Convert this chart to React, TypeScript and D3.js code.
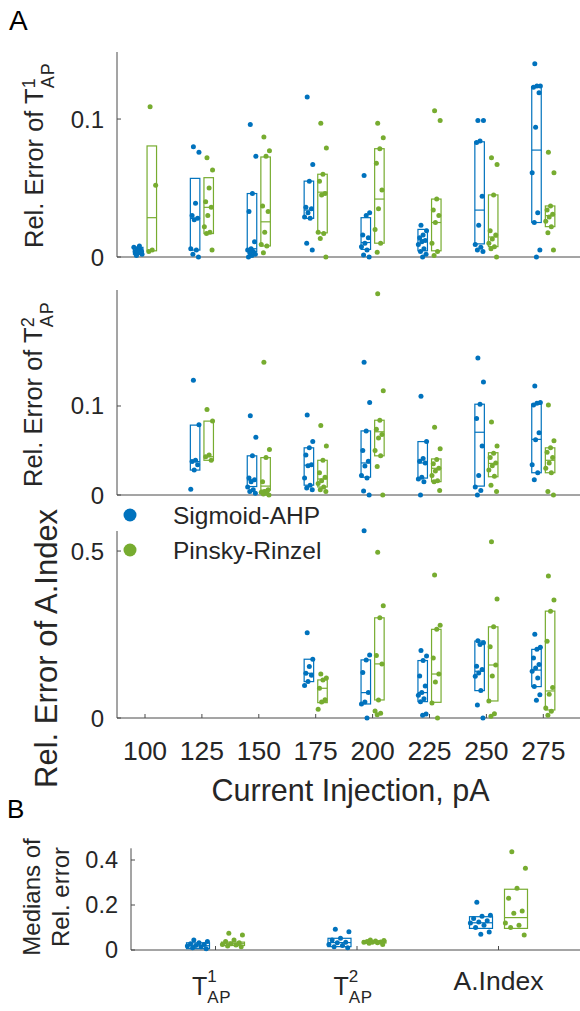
import React from 'react';
import * as d3 from 'd3';

// ---------------- DATA ----------------
const categories = ["100", "125", "150", "175", "200", "225", "250", "275"];
const seriesNames = ["Sigmoid-AHP", "Pinsky-Rinzel"];
const seriesColors = ["#0072BD", "#77AC30"];

// Panel A, row 1: Rel. Error of T1_AP (points per category)
const t1Sigmoid: number[][] = [
  [0.001, 0.002, 0.003, 0.004, 0.005, 0.006, 0.007, 0.008, 0.002, 0.004],
  [0.080, 0.076, 0.039, 0.030, 0.028, 0.027, 0.006, 0.005, 0.002, 0.000],
  [0.096, 0.073, 0.046, 0.033, 0.011, 0.006, 0.005, 0.004, 0.003, 0.002, 0.001, 0.000],
  [0.116, 0.067, 0.055, 0.036, 0.035, 0.032, 0.029, 0.028, 0.010, 0.005],
  [0.059, 0.032, 0.030, 0.016, 0.014, 0.010, 0.0075, 0.005, 0.0015, 0.000],
  [0.023, 0.019, 0.016, 0.014, 0.012, 0.011, 0.009, 0.006, 0.004, 0.002, 0.000],
  [0.099, 0.099, 0.084, 0.083, 0.044, 0.023, 0.009, 0.007, 0.005, 0.004],
  [0.140, 0.124, 0.124, 0.123, 0.119, 0.094, 0.061, 0.032, 0.025, 0.005, 0.000],
];
const t1Pinsky: number[][] = [
  [0.109, 0.052, 0.005, 0.004],
  [0.072, 0.063, 0.050, 0.040, 0.036, 0.030, 0.022, 0.018, 0.017, 0.005],
  [0.087, 0.077, 0.073, 0.037, 0.033, 0.018, 0.009, 0.008, 0.003],
  [0.097, 0.079, 0.060, 0.055, 0.046, 0.045, 0.018, 0.017, 0.0135, 0.000],
  [0.097, 0.0865, 0.0785, 0.068, 0.0485, 0.035, 0.020, 0.010, 0.0035],
  [0.106, 0.099, 0.042, 0.034, 0.030, 0.025, 0.010, 0.004, 0.001],
  [0.072, 0.067, 0.045, 0.019, 0.016, 0.013, 0.010, 0.0075, 0.006, 0.000],
  [0.076, 0.061, 0.037, 0.034, 0.031, 0.029, 0.026, 0.022, 0.0175, 0.005],
];
// boxes: [q1, median, q3]
const t1SigmoidBox: (number[] | null)[] = [
  [0.002, 0.004, 0.007], [0.005, 0.028, 0.057], [0.004, 0.006, 0.046], [0.028, 0.034, 0.055],
  [0.0055, 0.0105, 0.0285], [0.0045, 0.0125, 0.020], [0.0095, 0.034, 0.0835], [0.025, 0.0775, 0.1235],
];
const t1PinskyBox: (number[] | null)[] = [
  [0.0045, 0.0285, 0.0805], [0.017, 0.036, 0.0575], [0.008, 0.0255, 0.0725], [0.0175, 0.047, 0.060],
  [0.010, 0.042, 0.0785], [0.0045, 0.025, 0.042], [0.0075, 0.0145, 0.045], [0.022, 0.030, 0.037],
];

// Panel A, row 2: Rel. Error of T2_AP
const t2Sigmoid: number[][] = [
  [],
  [0.129, 0.079, 0.039, 0.0375, 0.034, 0.028, 0.0065],
  [0.089, 0.065, 0.044, 0.019, 0.017, 0.015, 0.009, 0.006, 0.004, 0.002],
  [0.090, 0.060, 0.053, 0.045, 0.034, 0.033, 0.019, 0.011, 0.008, 0.006],
  [0.149, 0.104, 0.072, 0.050, 0.038, 0.0325, 0.022, 0.019, 0.0045, 0.000],
  [0.111, 0.060, 0.041, 0.038, 0.036, 0.020, 0.018, 0.015, 0.000],
  [0.154, 0.127, 0.102, 0.086, 0.055, 0.022, 0.009, 0.005, 0.000],
  [0.1225, 0.104, 0.103, 0.101, 0.070, 0.062, 0.034, 0.025, 0.017],
];
const t2Pinsky: number[][] = [
  [],
  [0.096, 0.083, 0.045, 0.043, 0.039],
  [0.149, 0.051, 0.042, 0.015, 0.006, 0.004, 0.003, 0.002, 0.001, 0.000],
  [0.078, 0.055, 0.039, 0.025, 0.020, 0.016, 0.013, 0.009, 0.006, 0.004],
  [0.226, 0.117, 0.084, 0.074, 0.068, 0.064, 0.050, 0.044, 0.032, 0.000],
  [0.076, 0.052, 0.040, 0.035, 0.030, 0.027, 0.022, 0.016, 0.015, 0.005],
  [0.082, 0.055, 0.047, 0.042, 0.036, 0.033, 0.028, 0.021, 0.011, 0.004],
  [0.101, 0.061, 0.053, 0.048, 0.042, 0.036, 0.030, 0.025, 0.004, 0.000],
];
const t2SigmoidBox: (number[] | null)[] = [
  null, [0.028, 0.0375, 0.0785], [0.0095, 0.017, 0.044], [0.011, 0.0335, 0.053],
  [0.020, 0.036, 0.072], [0.019, 0.036, 0.060], [0.010, 0.0705, 0.102], [0.025, 0.0625, 0.102],
];
const t2PinskyBox: (number[] | null)[] = [
  null, [0.039, 0.043, 0.083], [0.0055, 0.010, 0.042], [0.009, 0.018, 0.039],
  [0.044, 0.071, 0.084], [0.015, 0.030, 0.0405], [0.0205, 0.0355, 0.0475], [0.025, 0.039, 0.053],
];

// Panel A, row 3: Rel. Error of A.Index
const aiSigmoid: number[][] = [
  [], [], [],
  [0.255, 0.176, 0.154, 0.134, 0.128, 0.109, 0.097],
  [0.561, 0.189, 0.174, 0.136, 0.076, 0.048, 0.042, 0.000],
  [0.202, 0.186, 0.172, 0.126, 0.096, 0.076, 0.068, 0.058, 0.049, 0.012, 0.008],
  [0.231, 0.225, 0.220, 0.155, 0.145, 0.135, 0.125, 0.082, 0.039, 0.000],
  [0.2505, 0.212, 0.206, 0.180, 0.160, 0.150, 0.140, 0.120, 0.094, 0.070, 0.053],
];
const aiPinsky: number[][] = [
  [], [], [],
  [0.132, 0.120, 0.114, 0.089, 0.055, 0.048, 0.026],
  [0.496, 0.336, 0.300, 0.187, 0.162, 0.054, 0.021, 0.014, 0.010],
  [0.428, 0.278, 0.2655, 0.180, 0.132, 0.108, 0.045, 0.000],
  [0.528, 0.356, 0.273, 0.2136, 0.159, 0.126, 0.051, 0.013, 0.005],
  [0.425, 0.353, 0.320, 0.230, 0.091, 0.071, 0.030, 0.020, 0.008],
];
const aiSigmoidBox: (number[] | null)[] = [
  null, null, null, [0.109, 0.134, 0.176], [0.042, 0.076, 0.174],
  [0.049, 0.076, 0.172], [0.082, 0.140, 0.2305], [0.094, 0.1435, 0.2055],
];
const aiPinskyBox: (number[] | null)[] = [
  null, null, null, [0.046, 0.089, 0.114], [0.054, 0.162, 0.300],
  [0.047, 0.1317, 0.2655], [0.051, 0.1587, 0.273], [0.024, 0.081, 0.320],
];

// Panel B: medians of relative error
const bCategories = ["T1", "T2", "A.Index"];
const bSigmoid: number[][] = [
  [0.045, 0.038, 0.032, 0.028, 0.024, 0.020, 0.018, 0.015, 0.010, 0.006],
  [0.092, 0.081, 0.052, 0.045, 0.035, 0.032, 0.025, 0.020, 0.015, 0.010],
  [0.212, 0.155, 0.150, 0.140, 0.130, 0.125, 0.120, 0.110, 0.100, 0.080, 0.070],
];
const bPinsky: number[][] = [
  [0.074, 0.067, 0.045, 0.038, 0.032, 0.028, 0.025, 0.022, 0.018, 0.015],
  [0.045, 0.042, 0.040, 0.038, 0.036, 0.035, 0.034, 0.032, 0.030, 0.025],
  [0.437, 0.363, 0.274, 0.230, 0.173, 0.163, 0.120, 0.110, 0.100, 0.067],
];
const bSigmoidBox = [[0.006, 0.019, 0.032], [0.015, 0.033, 0.052], [0.096, 0.121, 0.148]];
const bPinskyBox = [[0.020, 0.028, 0.035], [0.031, 0.035, 0.041], [0.096, 0.144, 0.270]];

const t1Ticks = [0, 0.1];
const t2Ticks = [0, 0.1];
const aiTicks = [0, 0.5];
const bTicks = [0, 0.2, 0.4];

// ---------------- DRAWING ----------------
const FONT = "'Liberation Sans', Arial, Helvetica, sans-serif";
const AXIS = "#4a4a4a";
const TEXT = "#262626";

function jitter(i: number, w: number) {
  const f = ((i * 0.618034 + 0.31) % 1) - 0.5;
  return f * w;
}

type GroupProps = {
  values: number[];
  box: number[] | null;
  cx: number;
  y: d3.ScaleLinear<number, number>;
  color: string;
  boxW: number;
  jitW: number;
  r: number;
};

function Group({ values, box, cx, y, color, boxW, jitW, r }: GroupProps) {
  return (
    <g>
      {values.map((v, i) => (
        <circle key={i} cx={cx + jitter(i, jitW)} cy={y(v)} r={r} fill={color} />
      ))}
      {box && (
        <g fill="none" stroke={color} strokeWidth={1.2}>
          <rect x={cx - boxW / 2} y={y(box[2])} width={boxW} height={y(box[0]) - y(box[2])} />
          <line x1={cx - boxW / 2} x2={cx + boxW / 2} y1={y(box[1])} y2={y(box[1])} />
        </g>
      )}
    </g>
  );
}

type PanelProps = {
  y: d3.ScaleLinear<number, number>;
  ticks: number[];
  blue: number[][];
  green: number[][];
  blueBox: (number[] | null)[];
  greenBox: (number[] | null)[];
  xTicks: boolean;
};

const xA = d3.scalePoint<string>().domain(categories).range([145, 543.3]);
const AXIS_X = 117;
const RIGHT = 580;
const OFF_A = 6.8;
const BOXW_A = 9.5;

function PanelA({ y, ticks, blue, green, blueBox, greenBox, xTicks }: PanelProps) {
  const [y0, y1] = y.range();
  return (
    <g>
      <line x1={AXIS_X} x2={AXIS_X} y1={y0} y2={y1} stroke={AXIS} strokeWidth={1} />
      <line x1={AXIS_X} x2={RIGHT} y1={y0} y2={y0} stroke={AXIS} strokeWidth={1} />
      {ticks.map((t) => (
        <g key={t}>
          <line x1={AXIS_X} x2={AXIS_X + 4} y1={y(t)} y2={y(t)} stroke={AXIS} />
          <text x={AXIS_X - 13} y={y(t) + 8.5} textAnchor="end" fontSize={24} fill={TEXT} fontFamily={FONT}>
            {String(t)}
          </text>
        </g>
      ))}
      {xTicks &&
        categories.map((c) => (
          <line key={c} x1={xA(c)} x2={xA(c)} y1={y0} y2={y0 - 4} stroke={AXIS} />
        ))}
      {categories.map((c, i) => (
        <g key={c}>
          <Group values={blue[i]} box={blueBox[i]} cx={(xA(c) as number) - OFF_A} y={y} color={seriesColors[0]} boxW={BOXW_A} jitW={9} r={2.5} />
          <Group values={green[i]} box={greenBox[i]} cx={(xA(c) as number) + OFF_A} y={y} color={seriesColors[1]} boxW={BOXW_A} jitW={9} r={2.5} />
        </g>
      ))}
    </g>
  );
}

// base text followed by stacked superscript and subscript
function SubSup({ base, sup, sub, size, subSize, supDy, subDy, subSpacing }: {
  base: string; sup: string; sub: string; size: number; subSize: number; supDy: number; subDy: number; subSpacing: number;
}) {
  const supW = sup.length * 0.556 * subSize;
  return (
    <>
      <tspan fontSize={size}>{base}</tspan>
      <tspan fontSize={subSize} dy={supDy}>{sup}</tspan>
      <tspan fontSize={subSize} dx={-supW} dy={subDy - supDy} letterSpacing={subSpacing}>{sub}</tspan>
    </>
  );
}

export default function App() {
  const yT1 = d3.scaleLinear().domain([0, 0.1486]).range([257, 52]);
  const yT2 = d3.scaleLinear().domain([0, 0.2303]).range([495, 290]);
  const yAI = d3.scaleLinear().domain([0, 0.56]).range([718, 531]);
  const yB = d3.scaleLinear().domain([0, 0.452]).range([950, 848.3]);
  const xB = d3.scalePoint<string>().domain(bCategories).range([215.5, 498.5]);
  const BX = 131;
  const OFF_B = 17.5;
  const BOXW_B = 23;

  return (
    <svg width={580} height={1011} style={{ position: 'absolute', left: 0, top: 0, background: '#fff' }} fontFamily={FONT}>
      <rect x={0} y={0} width={580} height={1011} fill="#fff" />
      {/* Panel letters */}
      <text x={9} y={30} fontSize={28} fill="#000">A</text>
      <text x={7} y={818} fontSize={26} fill="#000">B</text>

      {/* Row 1 */}
      <PanelA y={yT1} ticks={t1Ticks} blue={t1Sigmoid} green={t1Pinsky} blueBox={t1SigmoidBox} greenBox={t1PinskyBox} xTicks={false} />
      <text transform="translate(43,248) rotate(-90)" fill={TEXT}>
        <tspan fontSize={25.5}>Rel. Error of </tspan>
        <SubSup base="T" sup="1" sub="AP" size={25.5} subSize={18} supDy={-8} subDy={11} subSpacing={1} />
      </text>

      {/* Row 2 */}
      <PanelA y={yT2} ticks={t2Ticks} blue={t2Sigmoid} green={t2Pinsky} blueBox={t2SigmoidBox} greenBox={t2PinskyBox} xTicks={false} />
      <text transform="translate(42,487) rotate(-90)" fill={TEXT}>
        <tspan fontSize={25.5}>Rel. Error of </tspan>
        <SubSup base="T" sup="2" sub="AP" size={25.5} subSize={18} supDy={-8} subDy={11} subSpacing={1} />
      </text>

      {/* Row 3 */}
      <PanelA y={yAI} ticks={aiTicks} blue={aiSigmoid} green={aiPinsky} blueBox={aiSigmoidBox} greenBox={aiPinskyBox} xTicks={true} />
      <text transform="translate(57,788) rotate(-90)" fontSize={31} fill={TEXT}>Rel. Error of A.Index</text>
      {categories.map((c) => (
        <text key={c} x={xA(c)} y={760} textAnchor="middle" fontSize={26.5} fill={TEXT}>{c}</text>
      ))}
      <text x={350.5} y={801} textAnchor="middle" fontSize={30.5} fill={TEXT}>Current Injection, pA</text>

      {/* Legend */}
      {seriesNames.map((n, i) => (
        <g key={n}>
          <circle cx={130} cy={515 + i * 35} r={6.5} fill={seriesColors[i]} />
          <text x={173} y={515 + i * 35 + 8.5} fontSize={24.5} fill={TEXT}>{n}</text>
        </g>
      ))}

      {/* Panel B */}
      <line x1={BX} x2={BX} y1={950} y2={848.3} stroke={AXIS} />
      <line x1={BX} x2={RIGHT} y1={950} y2={950} stroke={AXIS} />
      {bTicks.map((t) => (
        <g key={t}>
          <line x1={BX} x2={BX + 4} y1={yB(t)} y2={yB(t)} stroke={AXIS} />
          <text x={BX - 13} y={yB(t) + 8} textAnchor="end" fontSize={23.5} fill={TEXT}>{String(t)}</text>
        </g>
      ))}
      {bCategories.map((c, i) => (
        <g key={c}>
          <line x1={xB(c)} x2={xB(c)} y1={950} y2={946} stroke={AXIS} />
          <Group values={bSigmoid[i]} box={bSigmoidBox[i]} cx={(xB(c) as number) - OFF_B} y={yB} color={seriesColors[0]} boxW={BOXW_B} jitW={22} r={2.5} />
          <Group values={bPinsky[i]} box={bPinskyBox[i]} cx={(xB(c) as number) + OFF_B} y={yB} color={seriesColors[1]} boxW={BOXW_B} jitW={22} r={2.5} />
        </g>
      ))}
      {bCategories.map((c, i) =>
        i < 2 ? (
          <text key={c} x={(xB(c) as number) - 23.5} y={995} fill={TEXT}>
            <SubSup base="T" sup={String(i + 1)} sub="AP" size={25} subSize={17} supDy={-13} subDy={8} subSpacing={0.5} />
          </text>
        ) : (
          <text key={c} x={xB(c)} y={990} textAnchor="middle" fontSize={26.5} fill={TEXT}>{c}</text>
        )
      )}
      <text transform="translate(40,897) rotate(-90)" textAnchor="middle" fontSize={24} fill={TEXT}>Medians of</text>
      <text transform="translate(69,897) rotate(-90)" textAnchor="middle" fontSize={24} fill={TEXT}>Rel. error</text>
    </svg>
  );
}
